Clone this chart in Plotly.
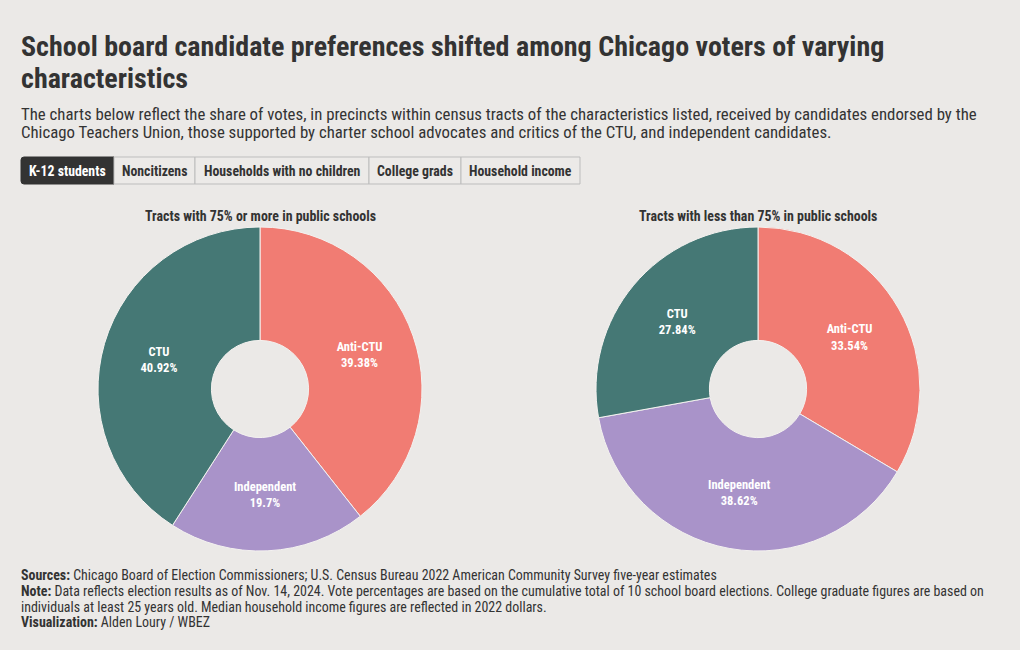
import plotly.graph_objects as go

W, H = 1020, 650

candidates = ["Anti-CTU", "Independent", "CTU"]
colors = ["#f17c73", "#a993c9", "#457875"]
left_title = "Tracts with 75% or more in public schools"
left_values = [39.38, 19.7, 40.92]
right_title = "Tracts with less than 75% in public schools"
right_values = [33.54, 38.62, 27.84]
tabs = ["K-12 students", "Noncitizens", "Households with no children", "College grads", "Household income"]

title_lines = ["School board candidate preferences shifted among Chicago voters of varying",
               "characteristics"]
subtitle_lines = ["The charts below reflect the share of votes, in precincts within census tracts of the characteristics listed, received by candidates endorsed by the",
                  "Chicago Teachers Union, those supported by charter school advocates and critics of the CTU, and independent candidates."]
footer_lines = ["<b>Sources:</b> Chicago Board of Election Commissioners; U.S. Census Bureau 2022 American Community Survey five-year estimates",
                "<b>Note:</b> Data reflects election results as of Nov. 14, 2024. Vote percentages are based on the cumulative total of 10 school board elections. College graduate figures are based on",
                "individuals at least 25 years old. Median household income figures are reflected in 2022 dollars.",
                "<b>Visualization:</b> Alden Loury / WBEZ"]

FONT = "Roboto Condensed, Liberation Sans Narrow, DejaVu Sans Condensed, Roboto, sans-serif"
BG = "#ebe9e7"
INK = "#333333"


def px(x):
    return x / W


def py(y):
    return 1 - y / H


def pie(values, cx):
    r = 162
    texts = [f"{c}<br>{v}%" for c, v in zip(candidates, values)]
    return go.Pie(
        labels=candidates, values=values, text=texts,
        textinfo="text", textposition="inside", insidetextorientation="horizontal",
        hole=0.3, sort=False, direction="clockwise", rotation=0,
        marker=dict(colors=colors, line=dict(color="#f4f2f0", width=1)),
        textfont=dict(family=FONT, size=12.5, color="white", weight="bold"),
        domain=dict(x=[px(cx - r), px(cx + r)], y=[py(389 + r), py(389 - r)]),
        showlegend=False, hoverinfo="label+percent",
    )


fig = go.Figure()
fig.add_trace(pie(left_values, 260))
fig.add_trace(pie(right_values, 758))

ann = []
shapes = []


def line(text, x, y, size, bold=False, color=INK, anchor="left"):
    ann.append(dict(x=px(x), y=py(y), xref="paper", yref="paper", xanchor=anchor, yanchor="middle",
                    align="left", showarrow=False, text=f"<b>{text}</b>" if bold else text,
                    font=dict(family=FONT, size=size, color=color)))


LX = 19
for t, y in zip(title_lines, [46, 78]):
    line(t, LX, y, 28, bold=True)
for t, y in zip(subtitle_lines, [113.5, 132.5]):
    line(t, LX, y, 16.8)

tab_edges = [21, 114, 195, 369, 461, 580]
y0t, y1t = 157, 184
for i, t in enumerate(tabs):
    x0, x1 = tab_edges[i], tab_edges[i + 1]
    active = i == 0
    if not active:
        shapes.append(dict(type="rect", xref="paper", yref="paper", x0=px(x0), x1=px(x1), y0=py(y1t), y1=py(y0t),
                           fillcolor="#eceae8", line=dict(color="#bdbdbd", width=1)))
    line(t, (x0 + x1) / 2, 170.7, 13.8, bold=True, color="white" if active else INK, anchor="center")

# active tab with rounded left corners (paper coords)
ax0, ax1 = tab_edges[0], tab_edges[1]
rr = 3
path = (f"M {px(ax0 + rr)},{py(y0t)} L {px(ax1)},{py(y0t)} L {px(ax1)},{py(y1t)} L {px(ax0 + rr)},{py(y1t)} "
        f"Q {px(ax0)},{py(y1t)} {px(ax0)},{py(y1t - rr)} L {px(ax0)},{py(y0t + rr)} "
        f"Q {px(ax0)},{py(y0t)} {px(ax0 + rr)},{py(y0t)} Z")
shapes.insert(0, dict(type="path", xref="paper", yref="paper", path=path, fillcolor="#333333",
                      line=dict(color="#333333", width=1), layer="below"))

for cx, t in [(260, left_title), (758, right_title)]:
    line(t, cx, 216.5, 13.9, bold=True, anchor="center")

for t, y in zip(footer_lines, [574.5, 590.5, 606.5, 622]):
    line(t, LX, y, 13.95)

fig.update_layout(
    width=W, height=H, autosize=False,
    margin=dict(l=0, r=0, t=0, b=0),
    paper_bgcolor=BG, plot_bgcolor=BG,
    annotations=ann, shapes=shapes,
    font=dict(family=FONT, color=INK),
)

fig.write_html("out.html", config={"displayModeBar": False},
               post_script="document.body.style.margin='0';document.body.style.background='#ebe9e7';")
